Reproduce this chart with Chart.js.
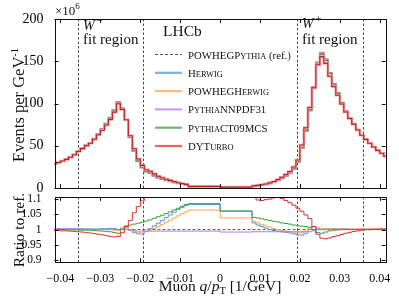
<!DOCTYPE html>
<html>
<head>
<meta charset="utf-8">
<script src="https://cdn.jsdelivr.net/npm/chart.js@4"></script>
<style>
  body { margin: 0; background: #fff; }
  #wrap { position: relative; width: 399px; height: 299px; }
  canvas { position: absolute; left: 0; }
  #main { top: 0; }
  #ratio { top: 185px; }
</style>
</head>
<body>
<div id="wrap">
  <canvas id="main" width="399" height="200"></canvas>
  <canvas id="ratio" width="399" height="114"></canvas>
</div>
<script>
// bin edges in q/pT [1/GeV] (wide bins around zero)
var binEdges = [-0.042, -0.041, -0.040, -0.039, -0.038, -0.037, -0.036, -0.035, -0.034, -0.033,
  -0.032, -0.031, -0.030, -0.029, -0.028, -0.027, -0.026, -0.025, -0.024, -0.023,
  -0.022, -0.021, -0.020, -0.019, -0.018, -0.017, -0.016, -0.015, -0.014, -0.013,
  -0.012, -0.011, -0.010, -0.009, -0.008, 0,
  0.008, 0.009, 0.010, 0.011, 0.012, 0.013, 0.014, 0.015, 0.016, 0.017,
  0.018, 0.019, 0.020, 0.021, 0.022, 0.023, 0.024, 0.025, 0.026, 0.027,
  0.028, 0.029, 0.030, 0.031, 0.032, 0.033, 0.034, 0.035, 0.036, 0.037,
  0.038, 0.039, 0.040, 0.041, 0.042];

var seriesNames = ["POWHEGPythia (ref.)", "Herwig", "POWHEGHerwig", "PythiaNNPDF31", "PythiaCT09MCS", "DYTurbo"];

// reference, events per GeV^-1 in units of 10^6
var refValues = [28.7, 30.3, 32, 34, 36.5, 39.5, 43.5, 47, 50.5, 53.5,
  58.5, 64, 69.5, 76, 83, 92, 102, 94, 80, 60,
  44, 32, 24.5, 19.5, 17.5, 14.5, 12, 10.3, 8.8, 7.6,
  6.3, 5.2, 4.3, 3.5,
  1.5, 0.9,
  2.2, 2.8, 3.5, 4.3, 5.5, 7, 9, 11.5, 14.5, 18,
  23, 31, 48, 68, 92, 118, 148, 160, 152, 136,
  123, 112, 101, 91, 83, 76, 69, 62.5, 57.5, 53,
  48.5, 44.5, 41, 37.5];

// ratios to the reference
var herwigRatio = [1.003, 1.003, 1.003, 1.003, 1.002, 1.002, 1.002, 1.002, 1.002, 1.002, 1.002, 1.002, 1.003, 1.003, 1.004, 1.004,
  1.0, 1.0, 1.008, 0.998, 0.99, 0.986, 0.986, 0.995, 1.003, 1.012, 1.021, 1.03, 1.039, 1.048, 1.057, 1.066, 1.073, 1.079,
  1.082, 1.06,
  1.022, 1.015, 1.01, 1.005, 1.0, 0.997, 0.995, 0.993, 0.991, 0.989, 0.986, 0.983, 0.982, 0.988, 1.0, 1.01, 1.005, 1.0,
  1.002, 1.003, 1.003, 1.002, 1.002, 1.002, 1.001, 1.001, 1.001, 1.001, 1.001, 1.001, 1.001, 1.001, 1.001, 1.001];
var powhegHerwigRatio = [1.001, 1.001, 1.001, 1.001, 1.001, 1.001, 1.001, 1.001, 1.0, 1.0, 1.0, 1.0, 1.0, 1.0, 1.0, 0.999,
  0.998, 1.0, 1.008, 1.0, 0.993, 0.99, 0.989, 0.993, 0.998, 1.004, 1.01, 1.017, 1.024, 1.031, 1.038, 1.045, 1.052, 1.058,
  1.064, 1.038,
  1.027, 1.022, 1.017, 1.012, 1.008, 1.003, 1.0, 0.997, 0.995, 0.993, 0.991, 0.99, 0.991, 0.995, 1.005, 1.01, 1.006, 1.003,
  1.003, 1.003, 1.002, 1.002, 1.002, 1.002, 1.002, 1.002, 1.002, 1.002, 1.002, 1.002, 1.002, 1.002, 1.002, 1.002];
var nnpdfRatio = [1.002, 1.002, 1.002, 1.002, 1.002, 1.002, 1.002, 1.002, 1.002, 1.001, 1.001, 1.001, 1.001, 1.001, 1.001, 1.001,
  1.0, 1.0, 1.002, 0.998, 0.996, 0.995, 0.995, 0.995, 0.995, 0.995, 0.995, 0.995, 0.995, 0.995, 0.995, 0.995, 0.995, 0.995,
  0.995, 0.992,
  0.993, 0.993, 0.993, 0.993, 0.993, 0.993, 0.993, 0.993, 0.993, 0.993, 0.993, 0.993, 0.993, 0.993, 0.993, 0.996, 1.0, 1.0,
  1.001, 1.001, 1.001, 1.001, 1.001, 1.001, 1.001, 1.001, 1.001, 1.001, 1.001, 1.001, 1.001, 1.001, 1.001, 1.001];
var ct09Ratio = [1.0, 1.0, 1.0, 0.999, 0.999, 0.999, 0.999, 0.998, 0.998, 0.998, 0.997, 0.996, 0.995, 0.994, 0.993, 0.99,
  0.988, 1.005, 1.012, 1.015, 1.018, 1.021, 1.024, 1.028, 1.032, 1.037, 1.042, 1.047, 1.053, 1.058, 1.064, 1.07, 1.076, 1.082,
  1.085, 1.061,
  1.04, 1.038, 1.035, 1.032, 1.03, 1.027, 1.025, 1.022, 1.02, 1.018, 1.015, 1.013, 1.011, 1.01, 1.008, 1.0, 0.99, 0.988,
  0.992, 0.996, 0.998, 0.999, 1.0, 1.0, 1.0, 1.0, 1.0, 1.0, 1.0, 1.0, 1.0, 1.0, 1.0, 1.0];
var dyturboRatio = [0.997, 0.997, 0.996, 0.996, 0.995, 0.994, 0.993, 0.992, 0.99, 0.989, 0.987, 0.985, 0.983, 0.98, 0.978, 0.976,
  0.978, 0.99, 1.01, 1.03, 1.055, 1.075, 1.094, 1.108, 1.13, 1.15, 1.16, 1.17, 1.18, 1.19, 1.2, 1.21, 1.22, 1.23,
  1.25, 1.2,
  1.12, 1.097, 1.095, 1.098, 1.1, 1.104, 1.106, 1.102, 1.095, 1.088, 1.08, 1.07, 1.06, 1.048, 1.036, 1.01, 0.985, 0.972,
  0.97, 0.973, 0.977, 0.98, 0.984, 0.988, 0.991, 0.994, 0.996, 0.998, 1.0, 1.0, 1.001, 1.001, 1.002, 1.002];

// W fit regions: 28 < pT < 52 GeV
var fitEdges = [-0.0357, -0.0192, 0.0192, 0.0357];
var xTickValues = [-0.04, -0.03, -0.02, -0.01, 0, 0.01, 0.02, 0.03, 0.04];

var colors = ["#555555", "#4f94de", "#ffa64d", "#b07be6", "#3f9f3f", "#e0302d"];
var SERIF = '"Liberation Serif", "DejaVu Serif", serif';
var ratioMin = 0.893, ratioMax = 1.107;

function font(size, italic) {
  return (italic ? "italic " : "") + size + "px " + SERIF;
}

function stepPoints(vals) {
  var pts = vals.map(function (v, i) { return { x: binEdges[i], y: v }; });
  pts.push({ x: binEdges[vals.length], y: vals[vals.length - 1] });
  return pts;
}

function times(a, b) {
  return a.map(function (v, i) { return v * b[i]; });
}

// off-scale ratio values are drawn on the frame edge
function clampRatio(vals) {
  return vals.map(function (v) { return Math.max(ratioMin, Math.min(ratioMax, v)); });
}

function drawRich(ctx, x, y, segs, align) {
  var w = 0;
  segs.forEach(function (s) { ctx.font = s.f; s.w = ctx.measureText(s.t).width + (s.dx || 0); w += s.w; });
  var cx = align === "center" ? x - w / 2 : x;
  segs.forEach(function (s) {
    ctx.font = s.f;
    ctx.fillText(s.t, cx + (s.dx || 0), y + (s.dy || 0));
    cx += s.w;
  });
}

function smallCaps(name) {
  var m = name.match(/^(.*?)( \(ref\.\))?$/);
  var segs = [];
  (m[1].match(/[a-z]+|[^a-z]+/g) || []).forEach(function (run) {
    if (/^[a-z]/.test(run)) segs.push({ t: run.toUpperCase(), f: font(8.4) });
    else segs.push({ t: run, f: font(10.8) });
  });
  if (m[2]) segs.push({ t: m[2], f: font(10.8) });
  return segs;
}

function line(ctx, x1, y1, x2, y2) {
  ctx.beginPath(); ctx.moveTo(x1, y1); ctx.lineTo(x2, y2); ctx.stroke();
}

function drawFrame(chart) {
  var ctx = chart.ctx, a = chart.chartArea, xs = chart.scales.x, ys = chart.scales.y;
  ctx.save();
  ctx.strokeStyle = "#111";
  ctx.lineWidth = 1;
  ctx.strokeRect(Math.round(a.left) + 0.5, Math.round(a.top) + 0.5,
    Math.round(a.right - a.left), Math.round(a.bottom - a.top));
  xTickValues.forEach(function (v) {
    var px = Math.round(xs.getPixelForValue(v)) + 0.5;
    line(ctx, px, a.bottom, px, a.bottom - 4);
    line(ctx, px, a.top, px, a.top + 4);
  });
  ys.ticks.forEach(function (t) {
    var py = Math.round(ys.getPixelForValue(t.value)) + 0.5;
    line(ctx, a.left, py, a.left + 4, py);
    line(ctx, a.right, py, a.right - 4, py);
  });
  ctx.restore();
}

function drawFitLines(chart) {
  var ctx = chart.ctx, a = chart.chartArea, xs = chart.scales.x;
  ctx.save();
  ctx.strokeStyle = "#333";
  ctx.lineWidth = 0.9;
  ctx.setLineDash([2.5, 2]);
  fitEdges.forEach(function (v) {
    var px = Math.round(xs.getPixelForValue(v)) + 0.5;
    line(ctx, px, a.top, px, a.bottom);
  });
  ctx.restore();
}

var mainDecor = {
  id: "mainDecor",
  beforeDatasetsDraw: drawFitLines,
  afterDraw: function (chart) {
    drawFrame(chart);
    var ctx = chart.ctx;
    ctx.save();
    ctx.fillStyle = "#111";
    ctx.textBaseline = "alphabetic";
    drawRich(ctx, 55, 15, [{ t: "\u00d710", f: font(13) }, { t: "6", f: font(9), dy: -6 }]);
    drawRich(ctx, 163, 36, [{ t: "LHCb", f: font(15.5) }]);
    drawRich(ctx, 83, 30, [{ t: "W", f: font(14, true) }, { t: "\u2212", f: font(12), dy: -6, dx: 1.5 }]);
    drawRich(ctx, 83, 44, [{ t: "fit region", f: font(15) }]);
    drawRich(ctx, 302, 28, [{ t: "W", f: font(14, true) }, { t: "+", f: font(11), dy: -6, dx: 1.5 }]);
    drawRich(ctx, 302, 44, [{ t: "fit region", f: font(15) }]);
    // y title
    ctx.save();
    ctx.translate(19, 105);
    ctx.rotate(-Math.PI / 2);
    drawRich(ctx, 0, 5, [{ t: "Events per GeV", f: font(16.5) }, { t: "-1", f: font(10.5), dy: -6 }], "center");
    ctx.restore();
    // legend
    seriesNames.forEach(function (name, i) {
      var y = 54.5 + i * 18.3;
      ctx.save();
      ctx.strokeStyle = colors[i];
      if (i === 0) { ctx.lineWidth = 1; ctx.setLineDash([3, 2]); }
      else { ctx.lineWidth = 2.2; ctx.globalAlpha = 0.75; }
      line(ctx, 155, y, 182, y);
      ctx.restore();
      drawRich(ctx, 188, y + 4, smallCaps(name));
    });
    ctx.restore();
  }
};

var ratioDecor = {
  id: "ratioDecor",
  beforeDatasetsDraw: drawFitLines,
  afterDraw: function (chart) {
    drawFrame(chart);
    var ctx = chart.ctx;
    ctx.save();
    ctx.fillStyle = "#111";
    ctx.save();
    ctx.translate(19, 45);
    ctx.rotate(-Math.PI / 2);
    drawRich(ctx, 0, 5, [{ t: "Ratio to ref.", f: font(15.5) }], "center");
    ctx.restore();
    drawRich(ctx, 220, 106, [
      { t: "Muon ", f: font(15.5) }, { t: "q", f: font(15.5, true) }, { t: "/", f: font(15.5) },
      { t: "p", f: font(15.5, true) }, { t: "T", f: font(10.5), dy: 3 }, { t: " [1/GeV]", f: font(15.5) }
    ], "center");
    ctx.restore();
  }
};

var xRange = { min: -0.0415, max: 0.0415 };

function lineSet(data, color, width, order, dash) {
  return {
    data: stepPoints(data), borderColor: color, borderWidth: width, borderDash: dash || [],
    stepped: true, pointRadius: 0, fill: false, order: order
  };
}

var ratioOne = refValues.map(function (v, i) { return v / refValues[i]; });

new Chart(document.getElementById("main"), {
  type: "line",
  data: {
    datasets: [
      lineSet(times(refValues, dyturboRatio), "#c41f1f", 1.1, 0),
      lineSet(times(refValues, dyturboRatio), "#f3a6a6", 2.6, 1),
      lineSet(times(refValues, ct09Ratio), colors[4], 1.2, 2),
      lineSet(times(refValues, nnpdfRatio), colors[3], 1.2, 3),
      lineSet(times(refValues, powhegHerwigRatio), colors[2], 1.2, 4),
      lineSet(times(refValues, herwigRatio), colors[1], 1.6, 5),
      lineSet(refValues, colors[0], 1, 6, [3, 2])
    ]
  },
  options: {
    responsive: false,
    animation: false,
    layout: { padding: { top: 19, bottom: 12, left: 0, right: 13.3 } },
    plugins: { legend: { display: false }, tooltip: { enabled: false } },
    scales: {
      x: { type: "linear", display: false, min: xRange.min, max: xRange.max },
      y: {
        min: 0, max: 200,
        afterFit: function (s) { s.width = 54.5; },
        grid: { display: false }, border: { display: false },
        ticks: { stepSize: 50, padding: 3, color: "#000", font: { family: SERIF, size: 14 } }
      }
    }
  },
  plugins: [mainDecor]
});

new Chart(document.getElementById("ratio"), {
  type: "line",
  data: {
    datasets: [
      lineSet(clampRatio(dyturboRatio), colors[5], 1, 0),
      lineSet(ct09Ratio, colors[4], 1, 1),
      lineSet(nnpdfRatio, colors[3], 1, 2),
      lineSet(powhegHerwigRatio, colors[2], 1, 3),
      lineSet(herwigRatio, colors[1], 1, 4),
      lineSet(ratioOne, colors[0], 1, 5, [3, 2])
    ]
  },
  options: {
    responsive: false,
    animation: false,
    layout: { padding: { top: 11.7, bottom: 0, left: 0, right: 13.3 } },
    plugins: { legend: { display: false }, tooltip: { enabled: false } },
    scales: {
      x: {
        type: "linear", min: xRange.min, max: xRange.max,
        afterFit: function (s) { s.height = 36.7; },
        grid: { display: false }, border: { display: false },
        ticks: {
          stepSize: 0.01, includeBounds: false, padding: 1, maxRotation: 0, autoSkip: false,
          color: "#000", font: { family: SERIF, size: 12 },
          callback: function (v) { return Math.abs(v) < 1e-9 ? "0" : v.toFixed(2).replace("-", "\u2212"); }
        }
      },
      y: {
        min: ratioMin, max: ratioMax,
        afterFit: function (s) { s.width = 54.5; },
        grid: { display: false }, border: { display: false },
        ticks: {
          stepSize: 0.05, includeBounds: false, autoSkip: false, padding: 5, color: "#000",
          font: { family: SERIF, size: 11.5 },
          callback: function (v) { return String(parseFloat(v.toFixed(2))); }
        }
      }
    }
  },
  plugins: [ratioDecor]
});
</script>
</body>
</html>
